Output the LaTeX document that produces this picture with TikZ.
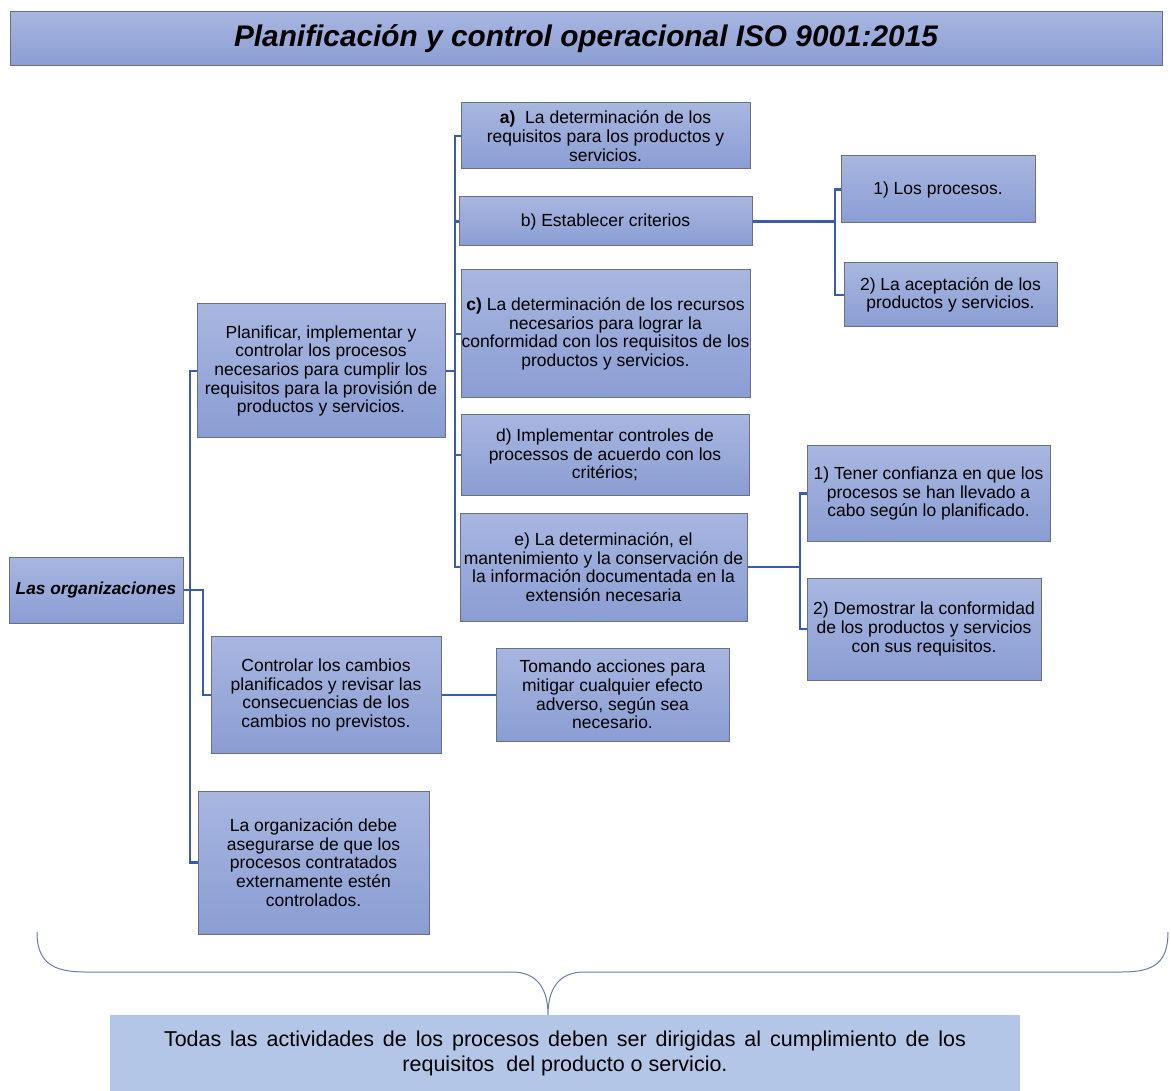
\documentclass[tikz,border=0pt]{standalone}
\usepackage{fontspec}
\setmainfont{Liberation Sans}
\definecolor{boxtop}{RGB}{168,182,224}
\definecolor{boxbot}{RGB}{138,157,211}
\definecolor{boxline}{RGB}{105,112,132}
\definecolor{conncol}{RGB}{58,92,170}
\definecolor{notefill}{RGB}{180,198,231}
\definecolor{bracecol}{RGB}{105,125,170}
\begin{document}
\begin{tikzpicture}[x=1pt,y=-1pt,
  box/.style={draw=boxline, line width=1pt, top color=boxtop, bottom color=boxbot,
    inner sep=0pt, align=center, font=\fontsize{17.5}{18.7}\selectfont},
  conn/.style={draw=conncol, line width=2.2pt}]
\fill[white] (0,0) rectangle (1171,1091);
\useasboundingbox (0,0) rectangle (1171,1091);

% title
\node[box, minimum width=1152pt, minimum height=54pt, font=\fontsize{29.8}{32}\selectfont\bfseries\itshape] (title) at (586,39) {Planificación y control operacional ISO 9001:2015};

% level 0
\node[box, minimum width=174pt, minimum height=66pt, font=\fontsize{17.3}{18.5}\selectfont\bfseries\itshape] (org) at (96,590) {Las organizaciones};

% level 1
\node[box, minimum width=248pt, minimum height=134pt] (plan) at (321,371) {Planificar, implementar y\\controlar los procesos\\necesarios para cumplir los\\requisitos para la provisión de\\productos y servicios.};
\node[box, minimum width=230pt, minimum height=117pt] (ctrl) at (326,695) {Controlar los cambios\\planificados y revisar las\\consecuencias de los\\cambios no previstos.};
\node[box, minimum width=231pt, minimum height=143pt] (ext) at (313.5,862.5) {La organización debe\\asegurarse de que los\\procesos contratados\\externamente estén\\controlados.};

% level 2
\node[box, minimum width=289pt, minimum height=66pt] (a) at (605.5,136) {\textbf{a)}\ \ La determinación de los\\requisitos para los productos y\\servicios.};
\node[box, minimum width=293pt, minimum height=49pt] (b) at (605.5,221.5) {b) Establecer criterios};
\node[box, minimum width=289pt, minimum height=128pt] (c) at (605.5,334) {\textbf{c)} La determinación de los recursos\\necesarios para lograr la\\conformidad con los requisitos de los\\productos y servicios.};
\node[box, minimum width=288pt, minimum height=80pt] (d) at (605,455) {d) Implementar controles de\\processos de acuerdo con los\\critérios;};
\node[box, minimum width=287pt, minimum height=108pt] (e) at (603.5,567) {e) La determinación, el\\mantenimiento y la conservación de\\la información documentada en la\\extensión necesaria};
\node[box, minimum width=233pt, minimum height=93pt] (tom) at (612.5,694.5) {Tomando acciones para\\mitigar cualquier efecto\\adverso, según sea\\necesario.};

% level 3
\node[box, minimum width=194pt, minimum height=67pt] (b1) at (938,189.5) {1) Los procesos.};
\node[box, minimum width=213pt, minimum height=64pt] (b2) at (950.5,295) {2) La aceptación de los\\productos y servicios.};
\node[box, minimum width=243pt, minimum height=95pt] (e1) at (928.5,493.5) {1) Tener confianza en que los\\procesos se han llevado a\\cabo según lo planificado.};
\node[box, minimum width=234pt, minimum height=102pt] (e2) at (924,629) {2) Demostrar la conformidad\\de los productos y servicios\\con sus requisitos.};

% bottom note
\node[fill=notefill, minimum width=910pt, minimum height=76pt, inner sep=0pt, align=center,
  font=\fontsize{21.5}{25}\selectfont] (note) at (565,1053)
  {\makebox[802pt][s]{Todas las actividades de los procesos deben ser dirigidas al cumplimiento de los}\\requisitos\ \ del producto o servicio.};

% trunk coordinates
\coordinate (t1) at (190,0);
\coordinate (t2) at (203,0);
\coordinate (t3) at (455,0);
\coordinate (t4) at (835,0);
\coordinate (t5) at (800,0);
\coordinate (tip) at (548,0);

% connectors level 0 -> 1
\draw[conn] (plan.west) -- (plan.west -| t1) -- (ext.west -| t1) -- (ext.west);
\draw[conn] (org.east) -- (org.east -| t2) -- (ctrl.west -| t2) -- (ctrl.west);

% plan -> a..e
\draw[conn] (plan.east) -- (plan.east -| t3);
\draw[conn] (a.west) -- (a.west -| t3) -- (e.west -| t3) -- (e.west);
\foreach \n in {b,c,d} \draw[conn] (\n.west -| t3) -- (\n.west);

% b -> b1,b2
\draw[conn] (b.east) -- (b.east -| t4);
\draw[conn] (b1.west) -- (b1.west -| t4) -- (b2.west -| t4) -- (b2.west);

% e -> e1,e2
\draw[conn] (e.east) -- (e.east -| t5);
\draw[conn] (e1.west) -- (e1.west -| t5) -- (e2.west -| t5) -- (e2.west);

% ctrl -> tom
\draw[conn] (ctrl.east) -- (ctrl.east -| tom.west);

% brace
\coordinate (bl) at (37,932);
\coordinate (br) at (1168,932);
\draw[bracecol, line width=1pt] (bl) .. controls (37,962) and (52,972) .. (85,972)
  -- (512,972) .. controls (538,972) and (548,990) .. (note.north -| tip)
  .. controls (548,990) and (558,972) .. (584,972)
  -- (1122,972) .. controls (1155,972) and (1168,962) .. (br);
\end{tikzpicture}
\end{document}
